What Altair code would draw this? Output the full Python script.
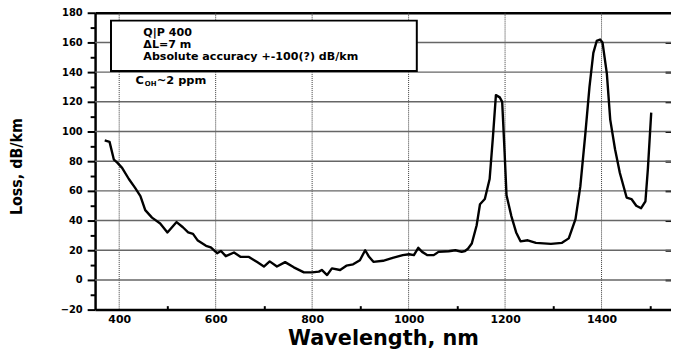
import altair as alt
import pandas as pd

# ---- data ----
wavelength_nm = [
    370, 380, 389, 396, 406, 420, 433, 444, 454, 468,
    485, 500, 519, 532, 543, 553, 563, 580, 590, 603,
    611, 621, 638, 652, 669, 686, 700, 712, 727, 744,
    762, 783, 800, 814, 820, 831, 841, 858, 871, 885,
    899, 910, 918, 927, 947, 967, 988, 1001, 1011, 1020,
    1028, 1039, 1052, 1062, 1083, 1097, 1110, 1117, 1123, 1131,
    1141, 1148, 1158, 1168, 1175, 1181, 1189, 1194, 1199, 1203,
    1213, 1223, 1232, 1247, 1264, 1295, 1318, 1332, 1346, 1356,
    1366, 1375, 1383, 1390, 1397, 1402, 1411, 1418, 1428, 1438,
    1452, 1462, 1472, 1482, 1491, 1496, 1503]
loss_db_km = [
    94, 93, 81, 79, 75.5, 68, 62, 56.5, 47, 42,
    38, 32, 39, 35.5, 32, 31, 26.5, 23, 22, 18,
    19.5, 16, 18.5, 15.5, 15.5, 12, 9, 12.5, 9, 12,
    8.5, 5.1, 5.1, 5.6, 6.7, 3.3, 7.8, 6.7, 9.6, 10.5,
    13.3, 20, 15.6, 12.2, 12.9, 14.9, 16.7, 17.3, 16.7, 21.6,
    18.9, 16.7, 16.7, 18.9, 19.3, 20, 18.9, 19.5, 21, 24.5,
    36.7, 51, 54.5, 68, 97, 124.5, 123, 120, 86, 57,
    43, 32, 26, 26.7, 25, 24.3, 25, 28, 41, 63,
    97, 130, 153, 161, 162, 160, 139, 108, 88, 72,
    55.5, 54.5, 50, 48.3, 53, 74.5, 112.7]

x_ticks = [400, 600, 800, 1000, 1200, 1400]
x_minor = [500, 700, 900, 1100, 1300, 1500]
y_ticks = [-20, 0, 20, 40, 60, 80, 100, 120, 140, 160, 180]
y_minor = [-10, 10, 30, 50, 70, 90, 110, 130, 150, 170]
y_grid = [0, 20, 40, 60, 80, 100, 120, 140, 160]

note_lines = ["Q|P 400", "ΔL=7 m", "Absolute accuracy +-100(?) dB/km"]
note_x = [450, 450, 450]
note_y = [166.0, 158.0, 150.0]

conc_parts = ["C", "OH", "~2 ppm"]
conc_x = [434, 453, 478]
conc_y = [134, 132.3, 134]

box_x = [383, 1017]
box_y = [140.7, 174.7]

X_DOMAIN = [350, 1544]
Y_DOMAIN = [-20, 180]
FONT = "DejaVu Sans"

# ---- tables ----
curve = pd.DataFrame({"wl": wavelength_nm, "loss": loss_db_km})
box_df = pd.DataFrame({"x": [box_x[0]], "x2": [box_x[1]], "y": [box_y[0]], "y2": [box_y[1]]})
text_df = pd.DataFrame({
    "x": note_x + conc_x,
    "y": note_y + conc_y,
    "t": note_lines + conc_parts,
    "fs": [11.2, 11.2, 11.2, 11.5, 7, 11.5],
})
xgrid_df = pd.DataFrame({"xv": x_ticks})
ygrid_df = pd.DataFrame({"yv": y_grid, "x1": [X_DOMAIN[0]] * len(y_grid), "x2": [X_DOMAIN[1]] * len(y_grid)})

x_scale = alt.Scale(domain=X_DOMAIN, nice=False, zero=False)
y_scale = alt.Scale(domain=Y_DOMAIN, nice=False, zero=False)

xgrid = alt.Chart(xgrid_df).mark_rule(color="#3a3a3a", strokeWidth=1, strokeDash=[1, 1]).encode(
    x=alt.X("xv:Q", scale=x_scale, axis=None)
)
ygrid = alt.Chart(ygrid_df).mark_rule(color="#666666", strokeWidth=1.5).encode(
    y=alt.Y("yv:Q", scale=y_scale, axis=None),
    x=alt.X("x1:Q", scale=x_scale, axis=None),
    x2="x2:Q",
)

line = alt.Chart(curve).mark_line(color="black", strokeWidth=2.4, strokeJoin="round").encode(
    x=alt.X("wl:Q", scale=x_scale, title="Wavelength, nm",
            axis=alt.Axis(orient="bottom", values=x_ticks, format="d", grid=False,
                          ticks=False, domain=True, domainColor="black", domainWidth=2.5,
                          labelFont=FONT, labelFontWeight="bold", labelFontSize=11,
                          labelColor="black", labelPadding=4,
                          titleFont=FONT, titleFontWeight="bold", titleFontSize=21,
                          titleColor="black", titleX=291, titleY=29,
                          titleBaseline="middle", titleAlign="center")),
    y=alt.Y("loss:Q", scale=y_scale, title="Loss, dB/km",
            axis=alt.Axis(orient="left", values=y_ticks, format="d", grid=False,
                          ticks=True, tickSize=8, tickColor="black", tickWidth=2,
                          domain=True, domainColor="black", domainWidth=2.5,
                          labelFont=FONT, labelFontWeight="bold", labelFontSize=10,
                          labelColor="black", labelPadding=5,
                          titleFont="DejaVu Sans Condensed", titleFontWeight="bold",
                          titleFontSize=16, titleColor="black", titleX=-79, titleY=155,
                          titleAngle=270, titleAlign="center", titleBaseline="middle")),
)

box = alt.Chart(box_df).mark_rect(fill="white", stroke="black", strokeWidth=2).encode(
    x=alt.X("x:Q", scale=x_scale, axis=None), x2="x2",
    y=alt.Y("y:Q", scale=y_scale, axis=None), y2="y2",
)

texts = alt.Chart(text_df).mark_text(align="left", baseline="middle", font=FONT,
                                     fontWeight="bold", color="black").encode(
    x=alt.X("x:Q", scale=x_scale, axis=None),
    y=alt.Y("y:Q", scale=y_scale, axis=None),
    text="t:N",
    size=alt.Size("fs:Q", scale=None),
)

frame = alt.Chart(curve).mark_point(opacity=0).encode(
    x=alt.X("wl:Q", scale=x_scale, title=None,
            axis=alt.Axis(orient="top", domain=True, domainColor="black", domainWidth=2.5,
                          ticks=False, labels=False, grid=False)),
    y=alt.Y("loss:Q", scale=y_scale, title=None,
            axis=alt.Axis(orient="right", offset=-6, values=y_ticks[1:-1], domain=False,
                          ticks=True, tickSize=6, tickWidth=2, tickColor="black",
                          labels=False, grid=False)),
)

minor = alt.Chart(curve).mark_point(opacity=0).encode(
    x=alt.X("wl:Q", scale=x_scale, title=None,
            axis=alt.Axis(orient="bottom", offset=-4, values=x_minor, domain=False,
                          ticks=True, tickSize=4, tickWidth=2, tickColor="black",
                          labels=False, grid=False)),
    y=alt.Y("loss:Q", scale=y_scale, title=None,
            axis=alt.Axis(orient="left", values=y_minor, domain=False,
                          ticks=True, tickSize=5, tickWidth=2, tickColor="black",
                          labels=False, grid=False)),
)

chart = alt.layer(xgrid, ygrid, line, box, texts, frame, minor).resolve_axis(
    x="independent", y="independent"
).properties(
    width=582, height=300,
    padding={"left": 88, "top": 3, "right": 0, "bottom": 38},
    autosize=alt.AutoSizeParams(type="none"),
    background="white",
).configure_view(strokeOpacity=0)

chart.save("out.html", embed_options={"renderer": "svg", "actions": False})
